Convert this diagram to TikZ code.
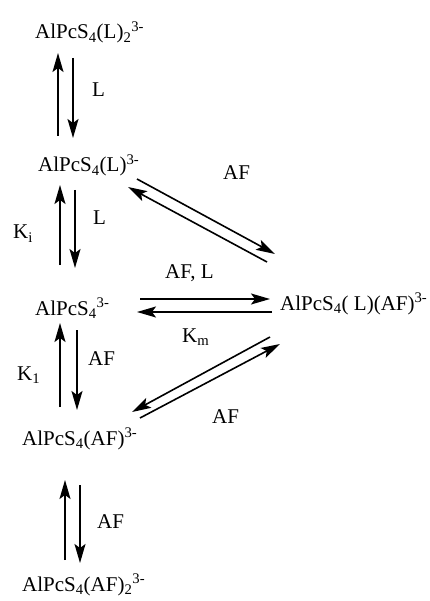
\documentclass[tikz,border=0pt]{standalone}
\usepackage{fontspec}
\setmainfont{Liberation Serif}
\usetikzlibrary{arrows.meta}
\begin{document}
\begin{tikzpicture}[x=1pt,y=-1pt,
  sp/.style={font=\fontsize{21}{24}\selectfont, inner sep=0pt, anchor=base west},
  lab/.style={font=\fontsize{21}{24}\selectfont, inner sep=0pt, anchor=base west},
  rx/.style={line width=1.6pt, -{Stealth[length=19pt,width=11pt,inset=4pt]}}]
\useasboundingbox (0,0) rectangle (429,601);
% species
\node[sp] (s1) at (35,39) {AlPcS\textsubscript{4}(L)\textsubscript{2}\textsuperscript{3-}};
\node[sp] (s2) at (38,172) {AlPcS\textsubscript{4}(L)\textsuperscript{3-}};
\node[sp] (s3) at (35,315) {AlPcS\textsubscript{4}\textsuperscript{3-}};
\node[sp] (s4) at (22,445) {AlPcS\textsubscript{4}(AF)\textsuperscript{3-}};
\node[sp] (s5) at (22,591) {AlPcS\textsubscript{4}(AF)\textsubscript{2}\textsuperscript{3-}};
\node[sp] (s6) at (280,310) {AlPcS\textsubscript{4}( L)(AF)\textsuperscript{3-}};
% endpoints
\coordinate (a1s) at (58,136); \coordinate (a1e) at (58,53);
\coordinate (b1s) at (73,58);  \coordinate (b1e) at (73,138);
\coordinate (a2s) at (60,265); \coordinate (a2e) at (60,185);
\coordinate (b2s) at (75,190); \coordinate (b2e) at (75,268);
\coordinate (a3s) at (60,407); \coordinate (a3e) at (60,323);
\coordinate (b3s) at (77,330); \coordinate (b3e) at (77,410);
\coordinate (a4s) at (65,560); \coordinate (a4e) at (65,480);
\coordinate (b4s) at (80,485); \coordinate (b4e) at (80,563);
\coordinate (h1s) at (140,299); \coordinate (h1e) at (270,299);
\coordinate (h2s) at (272,312); \coordinate (h2e) at (137,312);
\coordinate (d1s) at (137,179); \coordinate (d1e) at (275,254);
\coordinate (d2s) at (267,262); \coordinate (d2e) at (128,187);
\coordinate (e1s) at (270,337); \coordinate (e1e) at (132,412);
\coordinate (e2s) at (140,418); \coordinate (e2e) at (280,344);
% arrows
\draw[rx] (a1s) -- (a1e); \draw[rx] (b1s) -- (b1e);
\draw[rx] (a2s) -- (a2e); \draw[rx] (b2s) -- (b2e);
\draw[rx] (a3s) -- (a3e); \draw[rx] (b3s) -- (b3e);
\draw[rx] (a4s) -- (a4e); \draw[rx] (b4s) -- (b4e);
\draw[rx] (h1s) -- (h1e); \draw[rx] (h2s) -- (h2e);
\draw[rx] (d1s) -- (d1e); \draw[rx] (d2s) -- (d2e);
\draw[rx] (e1s) -- (e1e); \draw[rx] (e2s) -- (e2e);
% labels
\node[lab] (l1) at (92,97) {L};
\node[lab] (l2) at (93,225) {L};
\node[lab] (ki) at (13,239) {K\textsubscript{i}};
\node[lab] (l3) at (88,365) {AF};
\node[lab] (k1) at (17,380) {K\textsubscript{1}};
\node[lab] (l4) at (97,528) {AF};
\node[lab] (l5) at (223,180) {AF};
\node[lab] (l6) at (165,278) {AF, L};
\node[lab] (km) at (182,342) {K\textsubscript{m}};
\node[lab] (l7) at (212,423) {AF};
\end{tikzpicture}
\end{document}
